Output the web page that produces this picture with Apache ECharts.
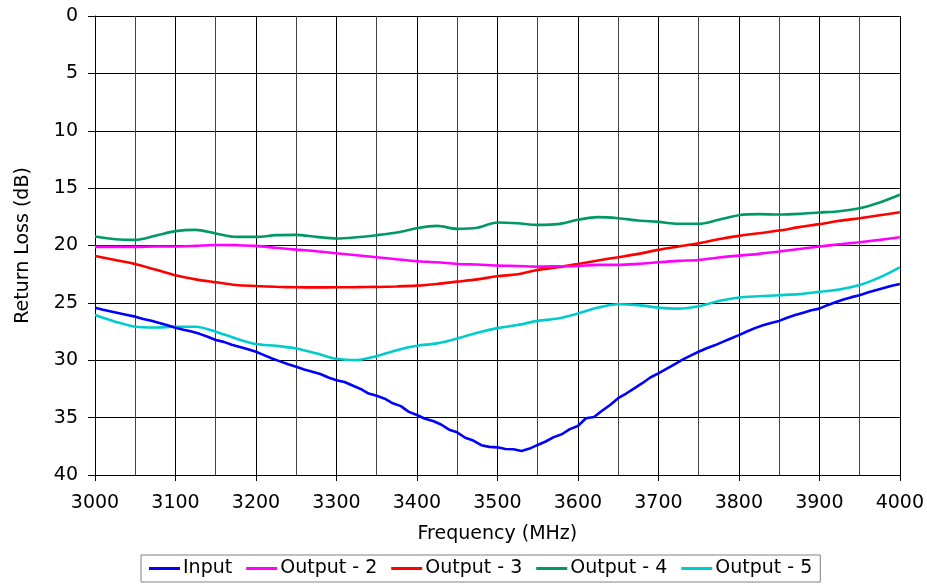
<!DOCTYPE html>
<html>
<head>
<meta charset="utf-8">
<script src="https://cdn.jsdelivr.net/npm/echarts@6/dist/echarts.min.js"></script>
<style>
html,body{margin:0;padding:0;background:#fff;}
#chart{width:927px;height:585px;}
</style>
</head>
<body>
<div id="chart"></div>
<script>
const xTicks = [3000,3100,3200,3300,3400,3500,3600,3700,3800,3900,4000];
const yTicks = [0,5,10,15,20,25,30,35,40];

const freqInput = [3000,3010,3020,3030,3040,3050,3060,3070,3080,3090,
  3100,3110,3120,3130,3140,3150,3160,3170,3180,3190,
  3200,3210,3220,3230,3240,3250,3260,3270,3280,3290,
  3300,3310,3320,3330,3340,3350,3360,3370,3380,3390,
  3400,3410,3420,3430,3440,3450,3460,3470,3480,3490,
  3500,3510,3520,3530,3540,3550,3560,3570,3580,3590,
  3600,3610,3620,3630,3640,3650,3660,3670,3680,3690,
  3700,3710,3720,3730,3740,3750,3760,3770,3780,3790,
  3800,3810,3820,3830,3840,3850,3860,3870,3880,3890,
  3900,3910,3920,3930,3940,3950,3960,3970,3980,3990,4000];
const input = [25.42,25.6,25.75,25.9,26.05,26.2,26.4,26.55,26.75,26.95,
  27.17,27.35,27.5,27.7,27.95,28.24,28.4,28.65,28.85,29.05,
  29.26,29.55,29.85,30.1,30.35,30.57,30.8,31.0,31.2,31.5,
  31.74,31.9,32.2,32.5,32.9,33.1,33.35,33.75,34.0,34.5,
  34.77,35.1,35.3,35.6,36.05,36.28,36.75,37.0,37.4,37.55,
  37.59,37.73,37.76,37.9,37.7,37.38,37.08,36.7,36.45,36.0,
  35.73,35.06,34.95,34.4,33.9,33.31,32.9,32.45,32.0,31.5,
  31.15,30.75,30.35,29.95,29.6,29.26,28.95,28.7,28.4,28.1,
  27.81,27.5,27.2,26.95,26.75,26.57,26.3,26.05,25.85,25.65,
  25.5,25.2,24.95,24.7,24.5,24.33,24.1,23.9,23.7,23.5,23.36];

const freqOut = [3000,3025,3050,3075,3100,3125,3150,3175,3200,3225,
  3250,3275,3300,3325,3350,3375,3400,3425,3450,3475,
  3500,3525,3550,3575,3600,3625,3650,3675,3700,3725,
  3750,3775,3800,3825,3850,3875,3900,3925,3950,3975,4000];
const output2 = [20.12,20.12,20.12,20.09,20.09,20.03,19.95,19.97,20.03,20.2,
  20.36,20.5,20.68,20.85,21.02,21.2,21.37,21.46,21.61,21.66,
  21.75,21.78,21.84,21.81,21.78,21.69,21.69,21.6,21.46,21.34,
  21.26,21.05,20.88,20.73,20.53,20.3,20.09,19.89,19.71,19.51,19.28];
const output3 = [20.91,21.26,21.61,22.1,22.6,22.95,23.2,23.44,23.53,23.6,
  23.64,23.65,23.64,23.63,23.61,23.57,23.5,23.35,23.15,22.95,
  22.68,22.5,22.13,21.9,21.61,21.3,21.02,20.73,20.38,20.09,
  19.8,19.45,19.16,18.93,18.7,18.4,18.14,17.85,17.62,17.36,17.1];
const output4 = [19.22,19.45,19.51,19.15,18.75,18.64,18.95,19.25,19.25,19.1,
  19.07,19.25,19.39,19.28,19.1,18.87,18.49,18.29,18.55,18.45,
  18.0,18.06,18.2,18.14,17.76,17.53,17.62,17.82,17.94,18.11,
  18.11,17.76,17.36,17.27,17.3,17.24,17.12,17.01,16.75,16.25,15.58];
const output5 = [26.06,26.64,27.08,27.14,27.08,27.08,27.51,28.1,28.59,28.74,
  28.97,29.4,29.87,29.99,29.64,29.12,28.74,28.53,28.1,27.6,
  27.2,26.93,26.57,26.37,25.93,25.41,25.12,25.2,25.41,25.5,
  25.29,24.83,24.53,24.42,24.33,24.24,24.04,23.83,23.45,22.78,21.9];

const seriesNames = ['Input','Output - 2','Output - 3','Output - 4','Output - 5'];
const seriesColors = ['#0000ff','#ff00ff','#ff0000','#009966','#00cccc'];

function pairs(xs, ys){ return xs.map((x,i)=>[x, ys[i]]); }

const seriesData = [
  pairs(freqInput, input),
  pairs(freqOut, output2),
  pairs(freqOut, output3),
  pairs(freqOut, output4),
  pairs(freqOut, output5)
];

const FONT = 'DejaVu Sans';
const chart = echarts.init(document.getElementById('chart'), null, {renderer:'canvas'});
chart.setOption({
  animation: false,
  backgroundColor: '#ffffff',
  grid: { left: 95, right: 27, top: 16, bottom: 110, containLabel: false },
  xAxis: {
    type: 'value',
    min: xTicks[0], max: xTicks[xTicks.length-1], interval: 100,
    name: 'Frequency (MHz)', nameLocation: 'middle', nameGap: 50,
    nameTextStyle: { fontFamily: FONT, fontSize: 19, color: '#000' },
    axisLine: { show: true, onZero: false, lineStyle: { color: '#000', width: 1 } },
    axisTick: { show: true, length: 6, lineStyle: { color: '#000' } },
    axisLabel: { fontFamily: FONT, fontSize: 19, color: '#000', margin: 19,
      formatter: v => String(v) },
    splitLine: { show: true, lineStyle: { color: '#000', width: 1 } },
    minorTick: { show: false, splitNumber: 2 },
    minorSplitLine: { show: true, lineStyle: { color: '#444', width: 1 } }
  },
  yAxis: {
    type: 'value', inverse: true,
    min: yTicks[0], max: yTicks[yTicks.length-1], interval: 5,
    name: 'Return Loss (dB)', nameLocation: 'middle', nameGap: 62, nameRotate: 90,
    nameTextStyle: { fontFamily: FONT, fontSize: 19, color: '#000' },
    axisLine: { show: true, lineStyle: { color: '#000', width: 1 } },
    axisTick: { show: true, length: 7, lineStyle: { color: '#000' } },
    axisLabel: { fontFamily: FONT, fontSize: 19, color: '#000', margin: 17,
      formatter: v => String(v) },
    splitLine: { show: true, lineStyle: { color: '#000', width: 1 } }
  },
  legend: {
    data: seriesNames,
    left: 141, top: 555,
    orient: 'horizontal',
    icon: 'rect', itemWidth: 31, itemHeight: 3, itemGap: 14,
    padding: [4, 8],
    borderColor: '#808080', borderWidth: 1,
    textStyle: { fontFamily: FONT, fontSize: 19, color: '#000', padding: [0,0,0,-2] }
  },
  series: seriesNames.map((n, i) => ({
    name: n, type: 'line',
    data: seriesData[i],
    showSymbol: false, symbol: 'none',
    smooth: i === 0 ? false : 0.3,
    color: seriesColors[i],
    lineStyle: { color: seriesColors[i], width: 2.6 },
    z: 10 - i
  }))
});
</script>
</body>
</html>
